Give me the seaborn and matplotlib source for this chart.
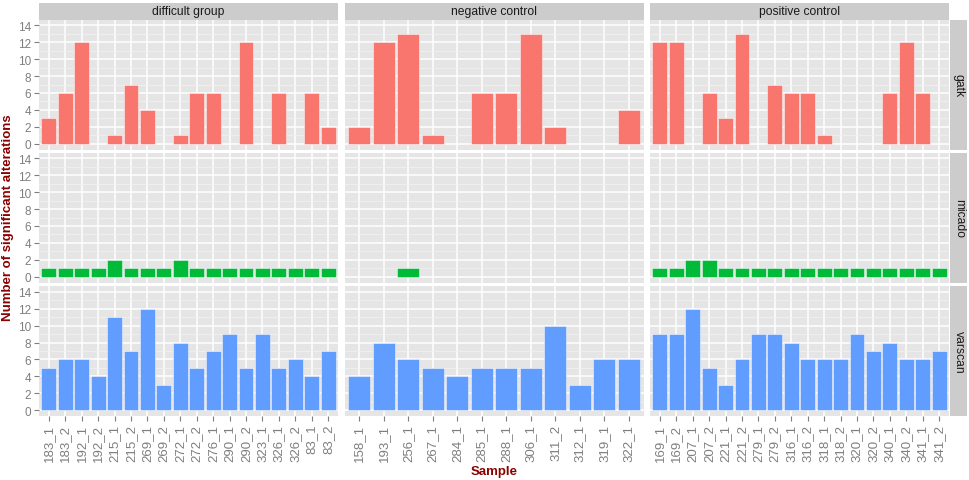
import numpy as np
import pandas as pd
import matplotlib
matplotlib.use("Agg")
import matplotlib.pyplot as plt
import seaborn as sns

plt.rcParams['font.family'] = ['Liberation Sans', 'DejaVu Sans']

# ---------------- data ----------------
groups = ["difficult group", "negative control", "positive control"]
methods = ["gatk", "micado", "varscan"]

difficult_samples = ["183_1", "183_2", "192_1", "192_2", "215_1", "215_2", "269_1", "269_2",
                     "272_1", "272_2", "276_1", "290_1", "290_2", "323_1", "326_1", "326_2",
                     "83_1", "83_2"]
negative_samples = ["158_1", "193_1", "256_1", "267_1", "284_1", "285_1", "288_1", "306_1",
                    "311_2", "312_1", "319_1", "322_1"]
positive_samples = ["169_1", "169_2", "207_1", "207_2", "221_1", "221_2", "279_1", "279_2",
                    "316_1", "316_2", "318_1", "318_2", "320_1", "320_2", "340_1", "340_2",
                    "341_1", "341_2"]

gatk_difficult = [3, 6, 12, 0, 1, 7, 4, 0, 1, 6, 6, 0, 12, 0, 6, 0, 6, 2]
gatk_negative = [2, 12, 13, 1, 0, 6, 6, 13, 2, 0, 0, 4]
gatk_positive = [12, 12, 0, 6, 3, 13, 0, 7, 6, 6, 1, 0, 0, 0, 6, 12, 6, 0]

micado_difficult = [1, 1, 1, 1, 2, 1, 1, 1, 2, 1, 1, 1, 1, 1, 1, 1, 1, 1]
micado_negative = [0, 0, 1, 0, 0, 0, 0, 0, 0, 0, 0, 0]
micado_positive = [1, 1, 2, 2, 1, 1, 1, 1, 1, 1, 1, 1, 1, 1, 1, 1, 1, 1]

varscan_difficult = [5, 6, 6, 4, 11, 7, 12, 3, 8, 5, 7, 9, 5, 9, 5, 6, 4, 7]
varscan_negative = [4, 8, 6, 5, 4, 5, 5, 5, 10, 3, 6, 6]
varscan_positive = [9, 9, 12, 5, 3, 6, 9, 9, 8, 6, 6, 6, 9, 7, 8, 6, 6, 7]

samples_by_group = {
    "difficult group": difficult_samples,
    "negative control": negative_samples,
    "positive control": positive_samples,
}
values = {
    ("gatk", "difficult group"): gatk_difficult,
    ("gatk", "negative control"): gatk_negative,
    ("gatk", "positive control"): gatk_positive,
    ("micado", "difficult group"): micado_difficult,
    ("micado", "negative control"): micado_negative,
    ("micado", "positive control"): micado_positive,
    ("varscan", "difficult group"): varscan_difficult,
    ("varscan", "negative control"): varscan_negative,
    ("varscan", "positive control"): varscan_positive,
}

rows = []
for (m, g), vals in values.items():
    for s, v in zip(samples_by_group[g], vals):
        rows.append({"method": m, "group": g, "sample": s, "count": v})
df = pd.DataFrame(rows)

colors = {"gatk": "#F8766D", "micado": "#00BA38", "varscan": "#619CFF"}

# ---------------- layout ----------------
W, H = 970, 481
fig = plt.figure(figsize=(W / 100, H / 100), dpi=100)
fig.patch.set_facecolor("white")

col_left = [39, 344.5, 650]
panel_w = 299
row_top = [20.5, 153.5, 287]
panel_h = 130

tick_grey = "#7F7F7F"

for r, m in enumerate(methods):
    for c, g in enumerate(groups):
        x0 = col_left[c]
        y0 = row_top[r]
        ax = fig.add_axes([x0 / W, 1 - (y0 + panel_h) / H, panel_w / W, panel_h / H])
        order = samples_by_group[g]
        sub = df[(df.method == m) & (df.group == g) & (df["count"] > 0)]
        sns.barplot(data=sub, x="sample", y="count", order=order, color=colors[m],
                    saturation=1, width=0.9, errorbar=None,
                    edgecolor=(1, 1, 1, 0.55), linewidth=0.6, ax=ax)
        ax.set_facecolor("#E5E5E5")
        ax.set_xlim(-0.6, len(order) - 0.4)
        ax.set_ylim(-0.7, 14.7)
        ax.set_yticks(np.arange(0, 15, 2))
        ax.set_yticks(np.arange(1, 15, 2), minor=True)
        ax.set_axisbelow(True)
        ax.grid(which="major", color="white", linewidth=1.1)
        ax.grid(which="minor", axis="y", color="#F2F2F2", linewidth=0.5)
        for sp in ax.spines.values():
            sp.set_visible(False)
        ax.set_xlabel("")
        ax.set_ylabel("")
        ax.tick_params(which="minor", length=0)
        ax.tick_params(which="major", color=tick_grey, length=3.5, width=0.8,
                       labelcolor=tick_grey, pad=2)
        if c == 0:
            ax.tick_params(axis="y", labelsize=8.5)
        else:
            ax.tick_params(axis="y", left=False, labelleft=False)
        if r == len(methods) - 1:
            ax.tick_params(axis="x", labelsize=9.5, labelrotation=90)
        else:
            ax.tick_params(axis="x", bottom=False, labelbottom=False)

        # top strips
        if r == 0:
            sax = fig.add_axes([x0 / W, 1 - y0 / H, panel_w / W, 17 / H])
            sax.set_facecolor("#CCCCCC")
            sax.set_xticks([]); sax.set_yticks([])
            for sp in sax.spines.values():
                sp.set_visible(False)
            sax.text(0.5, 0.5, g, ha="center", va="center", fontsize=8.7,
                     color="#1A1A1A", transform=sax.transAxes)
        # right strips
        if c == len(groups) - 1:
            sax = fig.add_axes([(x0 + panel_w + 1.5) / W, 1 - (y0 + panel_h) / H,
                                17 / W, panel_h / H])
            sax.set_facecolor("#CCCCCC")
            sax.set_xticks([]); sax.set_yticks([])
            for sp in sax.spines.values():
                sp.set_visible(False)
            sax.text(0.5, 0.5, m, ha="center", va="center", fontsize=8.7,
                     rotation=-90, color="#1A1A1A", transform=sax.transAxes)

fig.text(494 / W, 1 - 472 / H, "Sample", ha="center", va="center",
         fontsize=9.5, fontweight="bold", color="#8B0000")
fig.text(8 / W, 1 - 218 / H, "Number of significant alterations", ha="center",
         va="center", rotation=90, fontsize=9.5, fontweight="bold", color="#8B0000")

fig.savefig("out.png", dpi=100)
